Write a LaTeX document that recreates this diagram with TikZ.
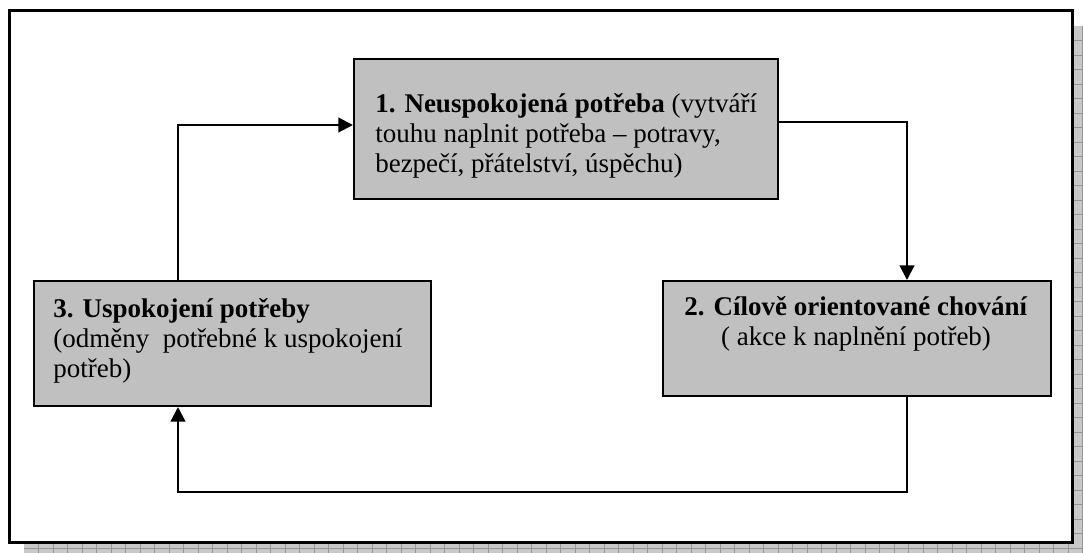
\documentclass[tikz,border=0pt]{standalone}
\usepackage{fontspec}
\setmainfont{Liberation Serif}
\usetikzlibrary{arrows.meta}

\definecolor{boxgray}{RGB}{192,192,192}
\definecolor{shadowfill}{RGB}{200,200,200}
\definecolor{shadowline}{RGB}{150,150,150}

\begin{document}
\begin{tikzpicture}[x=0.75pt,y=-0.75pt,
  stagebox/.style={draw=black,line width=1.5pt,fill=boxgray},
  stagetext/.style={inner sep=0pt,font=\fontsize{20.25}{22.5}\selectfont},
  flow/.style={line width=1.5pt,-{Triangle[length=11pt,width=11pt]}},
  frame/.style={draw=black,line width=2.25pt,fill=white}]

\useasboundingbox (0,0) rectangle (1083,553);

% gridded drop shadow behind the frame
\fill[shadowfill] (24,26) rectangle (1083,553);
\foreach \gx in {38.5,53,...,1083}
  \draw[shadowline,line width=0.6pt] (\gx,26) -- (\gx,553);
\foreach \gy in {40.5,55,...,553}
  \draw[shadowline,line width=0.6pt] (24,\gy) -- (1083,\gy);

% outer frame
\draw[frame] (9.5,10) rectangle (1072.5,542);

% the three stages
\node[stagebox,anchor=north west,minimum width=424pt*0.75,minimum height=140pt*0.75,inner sep=0pt] (b1) at (353,58) {};
\node[stagebox,anchor=north west,minimum width=388pt*0.75,minimum height=115pt*0.75,inner sep=0pt] (b2) at (662,280) {};
\node[stagebox,anchor=north west,minimum width=397pt*0.75,minimum height=125pt*0.75,inner sep=0pt] (b3) at (33,280) {};

\node[stagetext,anchor=north west,align=left] (t1) at (375,91)
  {\strut\textbf{1. Neuspokojená potřeba} (vytváří\\touhu naplnit potřeba – potravy,\\bezpečí, přátelství, úspěchu)};
\node[stagetext,anchor=north,align=center] (t2) at (856,294)
  {\strut\textbf{2. Cílově orientované chování}\\( akce k naplnění potřeb)};
\node[stagetext,anchor=north west,align=left] (t3) at (53,296)
  {\strut\textbf{3. Uspokojení potřeby}\\(odměny\ \ potřebné k uspokojení\\potřeb)};

% connector ports
\coordinate (b1out) at (b1.east |- 0,122);
\coordinate (b1in) at (b1.west |- 0,125);
\coordinate (b2in) at (907,0 |- b2.north);
\coordinate (b2out) at (907,0 |- b2.south);
\coordinate (b3in) at (178,0 |- b3.south);
\coordinate (b3out) at (178,0 |- b3.north);
\coordinate (loopbottom) at (0,492);

% cycle
\draw[flow] (b1out) -| (b2in);
\draw[flow] (b2out) -- (b2out |- loopbottom) -| (b3in);
\draw[flow] (b3out) |- (b1in);
\end{tikzpicture}
\end{document}
